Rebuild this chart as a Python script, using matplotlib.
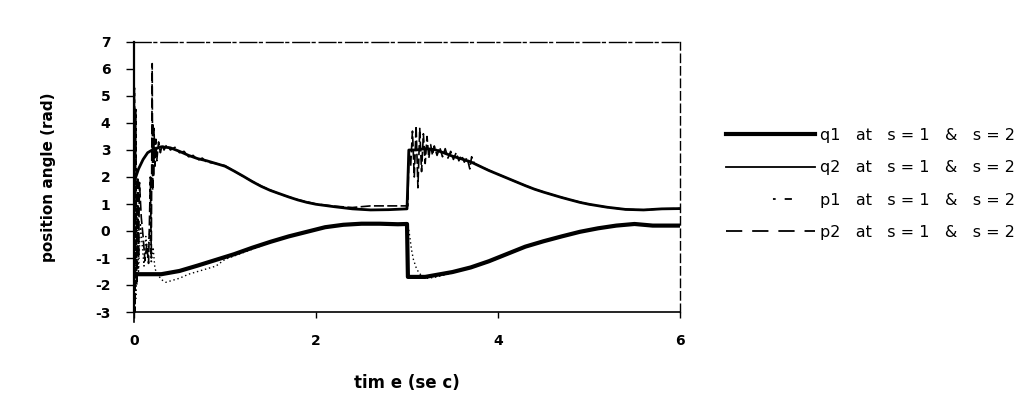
import matplotlib
matplotlib.use('Agg')
import matplotlib.pyplot as plt
from matplotlib.lines import Line2D

plt.rcParams['axes.unicode_minus'] = False

# q1 : joint 1 response (thick)
t_q1 = [0.0, 0.3, 0.5, 0.7, 0.9, 1.1, 1.3, 1.5, 1.7, 1.9, 2.1, 2.3, 2.5, 2.7, 2.9, 3.0,
        3.01, 3.2, 3.5, 3.7, 3.9, 4.1, 4.3, 4.5, 4.7, 4.9, 5.1, 5.3, 5.5, 5.7, 6.0]
q1 = [-1.6, -1.6, -1.48, -1.28, -1.07, -0.86, -0.62, -0.4, -0.2, -0.03, 0.14, 0.23, 0.27, 0.27, 0.25, 0.26,
      -1.7, -1.7, -1.52, -1.35, -1.12, -0.85, -0.58, -0.38, -0.2, -0.03, 0.1, 0.2, 0.26, 0.2, 0.2]

# q2 : joint 2 response
t_q2 = [0.0, 0.05, 0.1, 0.15, 0.2, 0.3, 0.4, 0.5, 0.6, 0.7, 0.8, 0.9, 1.0, 1.1, 1.2, 1.3, 1.4,
        1.5, 1.6, 1.7, 1.8, 1.9, 2.0, 2.2, 2.4, 2.6, 2.8, 3.0,
        3.02, 3.1, 3.2, 3.3, 3.4, 3.5, 3.6, 3.7, 3.8, 3.9, 4.0, 4.1, 4.2, 4.3, 4.4, 4.5,
        4.6, 4.7, 4.8, 4.9, 5.0, 5.2, 5.4, 5.6, 5.8, 6.0]
q2 = [1.8, 2.3, 2.65, 2.9, 3.0, 3.12, 3.08, 2.95, 2.8, 2.68, 2.6, 2.5, 2.4, 2.22, 2.03, 1.83, 1.65,
      1.5, 1.38, 1.26, 1.15, 1.06, 0.99, 0.9, 0.82, 0.78, 0.79, 0.82,
      3.0, 3.0, 3.05, 3.02, 2.9, 2.77, 2.67, 2.56, 2.4, 2.24, 2.1, 1.96, 1.82, 1.68, 1.55, 1.44,
      1.34, 1.24, 1.15, 1.06, 0.99, 0.88, 0.8, 0.78, 0.82, 0.83]

# p1 (dotted)
t_p1 = [0.0, 0.01, 0.02, 0.03, 0.05, 0.07, 0.09, 0.11, 0.13, 0.15, 0.17, 0.19, 0.21, 0.23, 0.26,
        0.3, 0.35, 0.4, 0.5, 0.6, 0.7, 0.8, 0.9, 1.0, 1.2, 1.4, 1.6, 1.8, 2.0, 2.2, 2.4, 2.6, 2.8, 3.0,
        3.01, 3.03, 3.05, 3.07, 3.1, 3.13, 3.17, 3.22, 3.3, 3.5, 3.7, 3.9, 4.1, 4.3, 4.5, 4.7, 4.9,
        5.1, 5.3, 5.5, 5.7, 6.0]
p1 = [0.0, 2.0, -2.5, 1.0, -1.5, 0.3, -0.5, -1.3, -0.2, -1.0, 0.0, -1.2, -0.6, -1.4, -1.6,
      -1.8, -1.9, -1.85, -1.75, -1.6, -1.5, -1.4, -1.3, -1.05, -0.8, -0.55, -0.3, -0.1, 0.05, 0.18, 0.24, 0.27, 0.25, 0.25,
      0.25, -0.2, -0.7, -1.05, -1.35, -1.55, -1.68, -1.75, -1.72, -1.56, -1.38, -1.15, -0.88, -0.6, -0.4, -0.22, -0.05,
      0.08, 0.18, 0.24, 0.2, 0.2]

# p2 (dashed)
t_p2 = [0.0, 0.005, 0.012, 0.02, 0.03, 0.04, 0.05, 0.06, 0.08, 0.1, 0.12, 0.14, 0.16, 0.18, 0.19,
        0.2, 0.205, 0.21, 0.215, 0.22, 0.23, 0.24, 0.25, 0.27, 0.29, 0.31, 0.33, 0.36, 0.4, 0.45,
        0.5, 0.55, 0.6, 0.65, 0.7, 0.75, 0.8, 0.9, 1.0, 1.2, 1.4, 1.6, 1.8, 2.0, 2.2, 2.4, 2.6, 2.8, 3.0,
        3.01, 3.02, 3.04, 3.06, 3.08, 3.1, 3.12, 3.14, 3.16, 3.18, 3.2, 3.22, 3.24, 3.26, 3.28, 3.3,
        3.33, 3.36, 3.39, 3.42, 3.45, 3.48, 3.51, 3.54, 3.57, 3.6, 3.63, 3.66, 3.69, 3.71, 3.74, 3.8,
        4.0, 4.2, 4.4, 4.6, 4.8, 5.0, 5.2, 5.4, 5.6, 5.8, 6.0]
p2 = [-3.4, 5.3, -3.0, 4.5, -2.0, 2.0, -1.0, 1.8, 0.5, -0.2, -1.1, -0.5, -1.2, 2.0, -1.0,
      6.2, 1.5, 4.0, 2.0, 3.8, 2.4, 3.4, 2.6, 3.3, 2.9, 3.2, 3.0, 3.2, 3.0, 3.1,
      2.9, 2.95, 2.75, 2.8, 2.62, 2.7, 2.55, 2.5, 2.42, 2.02, 1.66, 1.37, 1.16, 1.0, 0.92, 0.87, 0.93, 0.93, 0.93,
      0.93, 3.0, 2.4, 3.7, 2.0, 3.9, 1.6, 3.8, 2.2, 3.6, 2.5, 3.5, 2.7, 3.2, 2.8, 3.15,
      2.8, 3.1, 2.75, 3.05, 2.7, 2.95, 2.65, 2.9, 2.6, 2.8, 2.55, 2.72, 2.3, 2.75, 2.5, 2.4,
      2.1, 1.82, 1.55, 1.34, 1.15, 0.99, 0.88, 0.8, 0.78, 0.82, 0.83]

labels = ['q1   at   s = 1   &   s = 2',
          'q2   at   s = 1   &   s = 2',
          'p1   at   s = 1   &   s = 2',
          'p2   at   s = 1   &   s = 2']

fig = plt.figure(figsize=(10.29, 4.11), dpi=100)
ax = fig.add_axes([134 / 1029, 99 / 411, 546 / 1029, 270 / 411])

ax.plot(t_p1, p1, color='black', lw=1.0, ls=(0, (1, 2)))
ax.plot(t_p2, p2, color='black', lw=1.2, ls=(0, (6, 2)), clip_on=False)
ax.plot(t_q2, q2, color='black', lw=2.0)
ax.plot(t_q1, q1, color='black', lw=3.0)

ax.set_xlim(0, 6)
ax.set_ylim(-3, 7)
ax.set_xticks([0, 2, 4, 6])
ax.set_yticks(range(-3, 8))
ax.tick_params(axis='y', direction='out', length=6, width=1, pad=11, labelsize=10)
ax.tick_params(axis='x', direction='out', length=4, width=1, pad=12, labelsize=10)
for lab in ax.get_xticklabels() + ax.get_yticklabels():
    lab.set_fontweight('bold')

# frame looks broken/dashed in the scan on top and right
ax.spines['top'].set_linestyle((0, (12, 2, 2, 3)))
ax.spines['top'].set_linewidth(1.0)
ax.spines['right'].set_linestyle((0, (6, 3)))
ax.spines['right'].set_linewidth(1.0)
ax.spines['left'].set_linewidth(1.6)
ax.spines['bottom'].set_linewidth(1.2)

ax.set_xlabel('tim e (se c)', fontsize=12, fontweight='bold')
ax.xaxis.set_label_coords(0.5, -0.23)
ax.set_ylabel('position angle (rad)', fontsize=11, fontweight='bold')
ax.yaxis.set_label_coords(-0.143, 0.5)

# legend proxies (styles as they look in the legend box)
handles = [Line2D([], [], color='black', lw=3.0),
           Line2D([], [], color='black', lw=1.3),
           Line2D([], [], color='black', lw=1.3, ls=(-26, (1.5, 5, 4, 60))),
           Line2D([], [], color='black', lw=1.3, ls=(0, (9, 5.5)))]
fig.legend(handles, labels, loc='upper left', bbox_to_anchor=(726 / 1029, 1 - 128 / 411),
           frameon=False, fontsize=11.5, handlelength=5.56, handletextpad=0.3,
           labelspacing=1.08, borderpad=0, borderaxespad=0)

fig.savefig('out.png', dpi=100, facecolor='white')
